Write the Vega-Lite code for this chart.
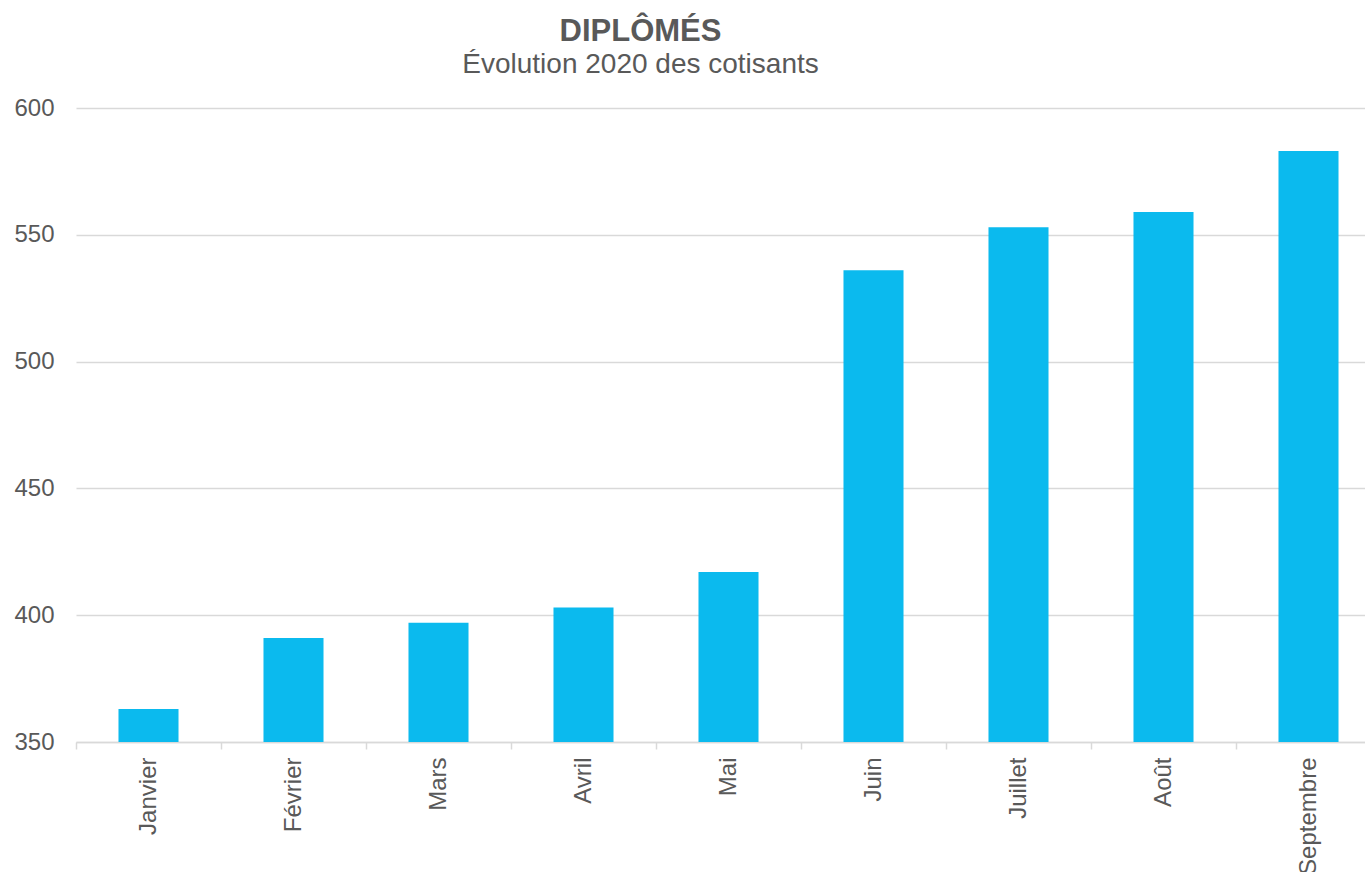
{
  "$schema": "https://vega.github.io/schema/vega-lite/v6.json",
  "autosize": "none",
  "width": 1289,
  "height": 634,
  "padding": {"left": 76, "top": 108, "right": 0, "bottom": 130},
  "background": "white",
  "config": {
    "view": {"stroke": null},
    "font": "Liberation Sans"
  },
  "title": {
    "text": "DIPLÔMÉS",
    "subtitle": "Évolution 2020 des cotisants",
    "anchor": "middle",
    "frame": "group",
    "dx": -80,
    "offset": 16,
    "font": "Liberation Sans",
    "fontSize": 31,
    "fontWeight": "bold",
    "color": "#595959",
    "subtitleFont": "Liberation Sans",
    "subtitleFontSize": 28,
    "subtitleColor": "#595959",
    "subtitlePadding": 3
  },
  "data": {
    "values": [
      {"mois": "Janvier", "cotisants": 363},
      {"mois": "Février", "cotisants": 391},
      {"mois": "Mars", "cotisants": 397},
      {"mois": "Avril", "cotisants": 403},
      {"mois": "Mai", "cotisants": 417},
      {"mois": "Juin", "cotisants": 536},
      {"mois": "Juillet", "cotisants": 553},
      {"mois": "Août", "cotisants": 559},
      {"mois": "Septembre", "cotisants": 583}
    ]
  },
  "mark": {"type": "bar", "color": "#0BBAEE"},
  "encoding": {
    "x": {
      "field": "mois",
      "type": "nominal",
      "sort": null,
      "scale": {"range": [0, 1305], "paddingInner": 0.586, "paddingOuter": 0.293},
      "axis": {
        "title": null,
        "labelAngle": -90,
        "labelFontSize": 24,
        "labelColor": "#595959",
        "labelPadding": 8,
        "labelAlign": "right",
        "labelBaseline": "middle",
        "tickOffset": -72.5,
        "labelOffset": 72.5,
        "tickSize": 7,
        "tickColor": "#d9d9d9",
        "tickWidth": 1.5,
        "domainColor": "#d9d9d9",
        "domainWidth": 1.5,
        "grid": false
      }
    },
    "y": {
      "field": "cotisants",
      "type": "quantitative",
      "scale": {"domain": [350, 600], "zero": false, "clamp": true},
      "axis": {
        "title": null,
        "values": [350, 400, 450, 500, 550, 600],
        "labelFontSize": 24,
        "labelColor": "#595959",
        "labelPadding": 22,
        "ticks": false,
        "domain": false,
        "gridColor": "#d9d9d9",
        "gridWidth": 1.5
      }
    }
  }
}
